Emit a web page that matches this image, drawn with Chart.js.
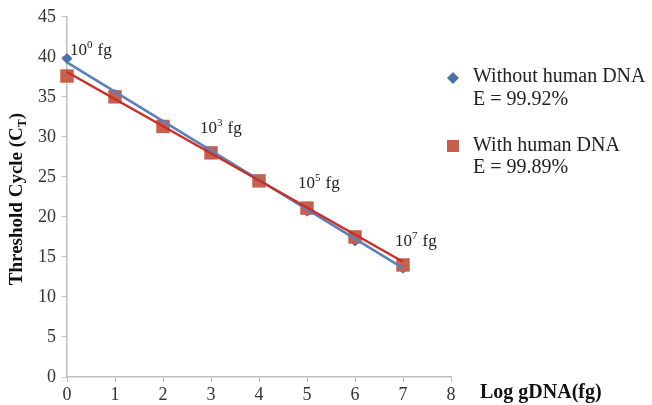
<!DOCTYPE html>
<html>
<head>
<meta charset="utf-8">
<script src="https://cdn.jsdelivr.net/npm/chart.js@4/dist/chart.umd.min.js"></script>
<style>
html,body{margin:0;padding:0;background:#fff;}
#wrap{width:652px;height:405px;position:relative;}
</style>
</head>
<body>
<div id="wrap"><canvas id="c" width="652" height="405"></canvas></div>
<script>
// ---- data ----
const logDNA = [0, 1, 2, 3, 4, 5, 6, 7];
const ctWithout = [39.8, 35.3, 31.5, 28.0, 24.5, 20.7, 17.0, 13.6];
const ctWith = [37.6, 35.0, 31.3, 28.0, 24.5, 21.1, 17.5, 14.0];
const fitX = [0, 7];
const fitWithout = [39.3, 13.6];
const fitWith = [38.1, 14.4];
const seriesNames = ['Without human DNA', 'With human DNA'];
const efficiencies = ['E = 99.92%', 'E = 99.89%'];
const pointLabels = [
  {x: 0, y: 39.8, base: '10', sup: '0'},
  {x: 3, y: 28.0, base: '10', sup: '3'},
  {x: 5, y: 21.1, base: '10', sup: '5'},
  {x: 7, y: 14.0, base: '10', sup: '7'}
];
const xTitle = 'Log gDNA(fg)';
const yTitle = 'Threshold Cycle (C';
const yTitleSub = 'T';

const BLUE_PT = '#4A70A8';
const BLUE_LN = '#5A80BC';
const RED_PT = '#C4604C';
const RED_LN = '#CC2E26';
const SERIF = '"Liberation Serif", "Times New Roman", serif';

const toPts = (xs, ys) => xs.map((x, i) => ({x: x, y: ys[i]}));

const overlay = {
  id: 'overlay',
  afterDraw(chart) {
    const ctx = chart.ctx;
    const xs = chart.scales.x, ys = chart.scales.y;
    ctx.save();
    ctx.fillStyle = '#222';
    ctx.textBaseline = 'alphabetic';
    // point labels (offsets in px relative to point)
    const offs = [[3, -3], [-11, -20], [-9, -20], [-8, -19]];
    pointLabels.forEach((p, i) => {
      const px = xs.getPixelForValue(p.x) + offs[i][0];
      const py = ys.getPixelForValue(p.y) + offs[i][1];
      ctx.font = '17px ' + SERIF;
      ctx.textAlign = 'left';
      ctx.fillText(p.base, px, py);
      let w = ctx.measureText(p.base).width;
      ctx.font = '11px ' + SERIF;
      ctx.fillText(p.sup, px + w, py - 7);
      w += ctx.measureText(p.sup).width + 5;
      ctx.font = '17px ' + SERIF;
      ctx.fillText('fg', px + w, py);
    });
    // x title
    ctx.font = 'bold 20px ' + SERIF;
    ctx.fillStyle = '#111';
    ctx.textAlign = 'left';
    ctx.fillText(xTitle, 480, 398);
    // y title rotated
    ctx.save();
    ctx.translate(22, 199);
    ctx.rotate(-Math.PI / 2);
    ctx.font = 'bold 19px ' + SERIF;
    const w1 = ctx.measureText(yTitle).width;
    ctx.font = 'bold 12px ' + SERIF;
    const w2 = ctx.measureText(yTitleSub).width;
    ctx.font = 'bold 19px ' + SERIF;
    const w3 = ctx.measureText(')').width;
    const tot = w1 + w2 + w3;
    const sx = -tot / 2;
    ctx.fillText(yTitle, sx, 0);
    ctx.font = 'bold 12px ' + SERIF;
    ctx.fillText(yTitleSub, sx + w1, 4);
    ctx.font = 'bold 19px ' + SERIF;
    ctx.fillText(')', sx + w1 + w2, 0);
    ctx.restore();
    // legend
    ctx.font = '20px ' + SERIF;
    ctx.textBaseline = 'middle';
    ctx.fillStyle = BLUE_PT;
    ctx.beginPath();
    ctx.moveTo(453, 72); ctx.lineTo(459, 78); ctx.lineTo(453, 84); ctx.lineTo(447, 78);
    ctx.closePath(); ctx.fill();
    ctx.fillStyle = RED_PT;
    ctx.fillRect(447, 140, 12, 12);
    ctx.fillStyle = '#222';
    ctx.fillText(seriesNames[0], 473, 77);
    ctx.fillText(efficiencies[0], 473, 100);
    ctx.fillText(seriesNames[1], 473, 146);
    ctx.fillText(efficiencies[1], 473, 168);
    ctx.restore();
  }
};

new Chart(document.getElementById('c'), {
  type: 'scatter',
  data: {
    datasets: [
      {label: 'fitWith', data: toPts(fitX, fitWith), showLine: true, borderColor: RED_LN, borderWidth: 2.5, pointRadius: 0, order: 0, clip: false},
      {label: 'fitWithout', data: toPts(fitX, fitWithout), showLine: true, borderColor: BLUE_LN, borderWidth: 2.5, pointRadius: 0, order: 1, clip: false},
      {label: seriesNames[1], data: toPts(logDNA, ctWith), showLine: false, pointStyle: 'rect', pointRadius: 9.5, backgroundColor: RED_PT, borderColor: RED_PT, borderWidth: 0, order: 2, clip: false},
      {label: seriesNames[0], data: toPts(logDNA, ctWithout), showLine: false, pointStyle: 'rectRot', pointRadius: 5.5, backgroundColor: BLUE_PT, borderColor: BLUE_PT, borderWidth: 0, order: 3, clip: false}
    ]
  },
  options: {
    responsive: false,
    animation: false,
    layout: {padding: {left: 0, top: 16, right: 201, bottom: 0}},
    plugins: {legend: {display: false}, tooltip: {enabled: false}},
    scales: {
      x: {
        type: 'linear', min: 0, max: 8,
        ticks: {stepSize: 1, font: {family: SERIF, size: 18}, color: '#333', padding: 2, maxRotation: 0},
        grid: {drawOnChartArea: false, drawTicks: true, tickLength: 5, color: '#BDBDBD'},
        border: {color: '#BDBDBD', width: 1.5},
        afterFit(s) { s.height = 28; }
      },
      y: {
        type: 'linear', min: 0, max: 45,
        ticks: {stepSize: 5, font: {family: SERIF, size: 18}, color: '#333', padding: 6},
        grid: {drawOnChartArea: false, drawTicks: true, tickLength: 5, color: '#BDBDBD'},
        border: {color: '#BDBDBD', width: 1.5},
        afterFit(s) { s.width = 67; }
      }
    }
  },
  plugins: [overlay]
});
</script>
</body>
</html>
